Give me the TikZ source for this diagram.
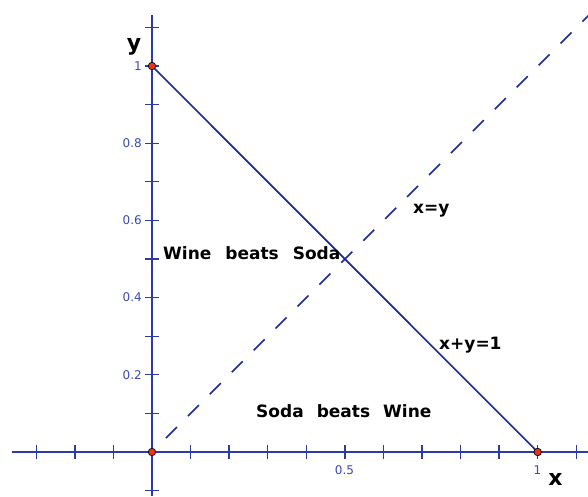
\documentclass[tikz,border=0pt]{standalone}
\usepackage{fontspec}
\setmainfont{DejaVu Sans}
\definecolor{axisblue}{HTML}{2A3AA8}
\definecolor{lineblue}{HTML}{1C2A98}
\definecolor{ticklab}{HTML}{3A4AB8}
\definecolor{ptred}{HTML}{E8341A}
\begin{document}
\begin{tikzpicture}[x=1pt,y=-1pt,
 axis/.style={draw=axisblue,line width=1.5pt},
 tickmark/.style={draw=axisblue,line width=1.3pt},
 mainline/.style={draw=lineblue,line width=1.7pt},
 dashline/.style={draw=lineblue,line width=1.7pt,dash pattern=on 15.5pt off 15.5pt},
 dot/.style={circle,fill=ptred,draw=black,line width=0.7pt,inner sep=0pt,minimum size=7.5pt},
 ticklabel/.style={text=ticklab,font=\fontsize{12}{12}\selectfont,inner sep=0pt},
 region/.style={font=\fontsize{17}{17}\selectfont\bfseries,inner sep=0pt,anchor=base west},
 axlabel/.style={font=\fontsize{22}{22}\selectfont\bfseries,inner sep=0pt,anchor=base}]
\useasboundingbox (0,0) rectangle (588,496);
\fill[white] (0,0) rectangle (588,496);
% axes
\coordinate (XL) at (12,452);
\coordinate (XR) at (588,452);
\coordinate (YT) at (152,15);
\coordinate (YB) at (152,496);
\draw[axis] (XL) -- (XR);
\draw[axis] (YT) -- (YB);
% ticks
\foreach \k in {-3,-2,-1,1,2,3,4,5,6,7,8,9,10,11}
  \draw[tickmark] ({152+38.57*\k},445) -- ({152+38.57*\k},459);
\foreach \k in {-1,1,2,3,4,5,6,7,8,9,10,11}
  \draw[tickmark] (145,{452-38.6*\k}) -- (159,{452-38.6*\k});
% tick labels
\node[ticklabel,anchor=east] (ly1) at (142,66) {1};
\node[ticklabel,anchor=east] (ly08) at (142,143.2) {0.8};
\node[ticklabel,anchor=east] (ly06) at (142,220.4) {0.6};
\node[ticklabel,anchor=east] (ly04) at (142,297.6) {0.4};
\node[ticklabel,anchor=east] (ly02) at (142,374.8) {0.2};
\node[ticklabel] (lx05) at (344.5,470) {0.5};
\node[ticklabel] (lx1) at (537.5,470) {1};
% points
\coordinate (O) at (152,452);
\coordinate (A) at (152,66);
\coordinate (B) at (537.7,452);
% lines
\begin{scope}
\clip (0,0) rectangle (588,496);
\coordinate (D0) at (166,438);
\coordinate (D1) at (606,-2);
\draw[dashline] (D0) -- (D1);
\end{scope}
\draw[mainline] (A) -- (B);
\node[dot] (Od) at (O) {};
\node[dot] (Ad) at (A) {};
\node[dot] (Bd) at (B) {};
% labels
\node[axlabel] (ylab) at (134,50) {y};
\node[axlabel] (xlab) at (555.5,485) {x};
\node[region] (wbs) at (163,259) {Wine\hspace{14pt}beats\hspace{14pt}Soda};
\node[region] (sbw) at (256,417) {Soda\hspace{13pt}beats\hspace{13pt}Wine};
\node[region] (lxy) at (413,213) {x=y};
\node[region] (lxy1) at (439,349) {x+y=1};
\end{tikzpicture}
\end{document}
